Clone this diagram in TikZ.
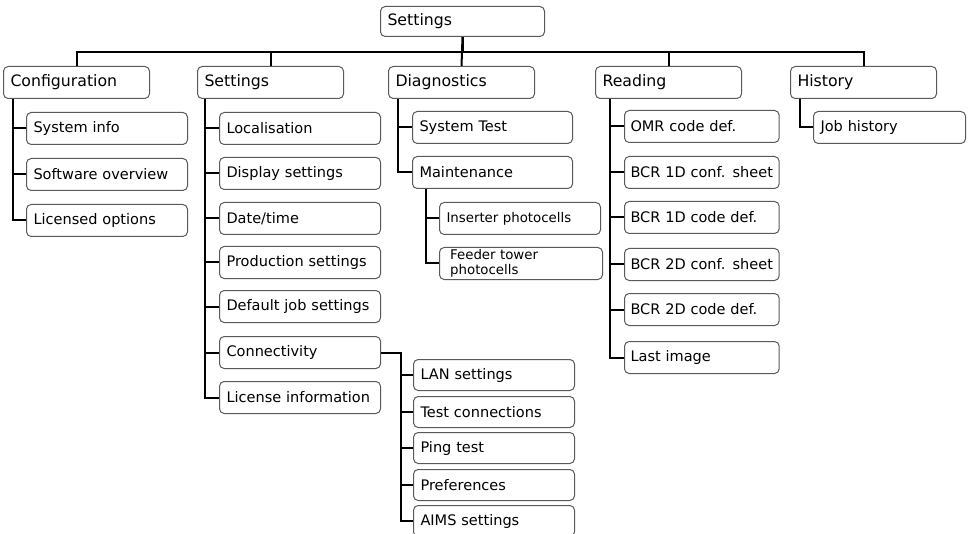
\documentclass[tikz,border=0pt]{standalone}
\usepackage{fontspec}
\setmainfont{DejaVu Sans}

\tikzset{every picture/.style={line width=0.75pt}}
\tikzset{
  box/.style={draw=black!65, rounded corners=3.5pt, anchor=north west, align=left, inner xsep=5.25pt, inner ysep=1pt},
  menubox/.style={box, text width=#1, minimum height=24pt, font={\fontsize{11.8pt}{13pt}\selectfont}},
  menubox/.default=99pt,
  itembox/.style={box, text width=#1, minimum height=24pt, font={\fontsize{10.9pt}{12pt}\selectfont}},
  itembox/.default=110.25pt,
  readbox/.style={itembox=107pt, inner xsep=4.5pt},
  subbox/.style={box, text width=110.25pt, minimum height=24pt, font={\fontsize{10pt}{11pt}\selectfont}},
  link/.style={line width=1.5pt, black}
}

\begin{document}
\begin{tikzpicture}[x=0.75pt,y=0.75pt,yscale=-1,xscale=1]
\useasboundingbox (0,0) rectangle (969,534);

%Root
\node[menubox=112.5pt, minimum height=22.5pt] (root) at (380,6) {Settings};

%Level 1
\node[menubox] (conf) at (3,66) {Configuration};
\node[menubox] (setg) at (197,66) {Settings};
\node[menubox] (diag) at (388,66) {Diagnostics};
\node[menubox] (read) at (595,66) {Reading};
\node[menubox] (hist) at (790,66) {History};

%Configuration
\node[itembox] (sysinfo) at (26,112) {System info};
\node[itembox] (swover) at (26,158) {Software overview};
\node[itembox] (licopt) at (26,204) {Licensed options};

%Settings
\node[itembox] (local) at (219,112) {Localisation};
\node[itembox] (disp) at (219,157) {Display settings};
\node[itembox] (date) at (219,202) {Date/time};
\node[itembox] (prod) at (219,246) {Production settings};
\node[itembox] (defjob) at (219,290) {Default job settings};
\node[itembox] (conn) at (219,336) {Connectivity};
\node[itembox] (licinf) at (219,381) {License information};

%Connectivity
\node[itembox, minimum height=23.25pt] (lan) at (413,359) {LAN settings};
\node[itembox, minimum height=23.25pt] (testc) at (413,396) {Test connections};
\node[itembox, minimum height=23.25pt] (ping) at (413,432) {Ping test};
\node[itembox, minimum height=23.25pt] (pref) at (413,469) {Preferences};
\node[itembox, minimum height=23.25pt] (aims) at (413,505) {AIMS settings};

%Diagnostics
\node[itembox=109.5pt] (systest) at (412,111) {System Test};
\node[itembox=109.5pt] (maint) at (412,156) {Maintenance};
\node[subbox] (insph) at (439,202) {Inserter photocells};
\node[subbox, inner xsep=8pt, text width=106.25pt, inner ysep=0.5pt] (feeder) at (439,247) {Feeder tower\\photocells};

%Reading
\node[readbox] (omr) at (624,110) {OMR code def.};
\node[readbox] (bcrac) at (624,156) {BCR 1D conf. sheet};
\node[readbox] (bcrad) at (624,201) {BCR 1D code def.};
\node[readbox] (bcrbc) at (624,248) {BCR 2D conf. sheet};
\node[readbox] (bcrbd) at (624,293) {BCR 2D code def.};
\node[readbox] (lastimg) at (624,341) {Last image};

%History
\node[itembox=103.5pt] (jobhist) at (813,111) {Job history};

%Root links
\draw[link] (root.south) -- ++(0,15) -| (conf.north);
\draw[link] (root.south) -- ++(0,15) -| (setg.north);
\draw[link] (root.south) -- (diag.north);
\draw[link] (root.south) -- ++(0,15) -| (read.north);
\draw[link] (root.south) -- ++(0,15) -| (hist.north);

%Configuration links
\draw[link] (conf.south west) ++(10,0) |- (sysinfo.west);
\draw[link] (conf.south west) ++(10,0) |- (swover.west);
\draw[link] (conf.south west) ++(10,0) |- (licopt.west);

%Settings links
\draw[link] (setg.south west) ++(8,0) |- (local.west);
\draw[link] (setg.south west) ++(8,0) |- (disp.west);
\draw[link] (setg.south west) ++(8,0) |- (date.west);
\draw[link] (setg.south west) ++(8,0) |- (prod.west);
\draw[link] (setg.south west) ++(8,0) |- (defjob.west);
\draw[link] (setg.south west) ++(8,0) |- (conn.west);
\draw[link] (setg.south west) ++(8,0) |- (licinf.west);

%Connectivity links
\draw[link] (conn.east) -- ++(20,0) |- (lan.west);
\draw[link] (conn.east) -- ++(20,0) |- (testc.west);
\draw[link] (conn.east) -- ++(20,0) |- (ping.west);
\draw[link] (conn.east) -- ++(20,0) |- (pref.west);
\draw[link] (conn.east) -- ++(20,0) |- (aims.west);

%Diagnostics links
\draw[link] (diag.south west) ++(10,0) |- (systest.west);
\draw[link] (diag.south west) ++(10,0) |- (maint.west);
\draw[link] (maint.south west) ++(14,0) |- (insph.west);
\draw[link] (maint.south west) ++(14,0) |- (feeder.west);

%Reading links
\draw[link] (read.south west) ++(15,0) |- (omr.west);
\draw[link] (read.south west) ++(15,0) |- (bcrac.west);
\draw[link] (read.south west) ++(15,0) |- (bcrad.west);
\draw[link] (read.south west) ++(15,0) |- (bcrbc.west);
\draw[link] (read.south west) ++(15,0) |- (bcrbd.west);
\draw[link] (read.south west) ++(15,0) |- (lastimg.west);

%History links
\draw[link] (hist.south west) ++(10,0) |- (jobhist.west);

\end{tikzpicture}
\end{document}
